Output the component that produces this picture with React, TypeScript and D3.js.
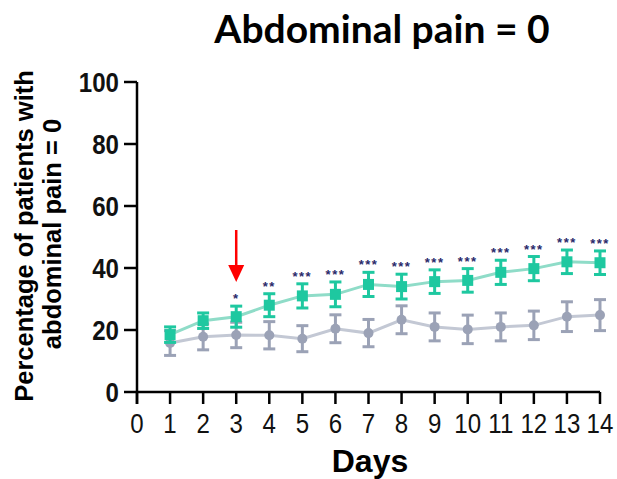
import React from "react";
import * as d3 from "d3";

const days = [1, 2, 3, 4, 5, 6, 7, 8, 9, 10, 11, 12, 13, 14];
const treatedMean = [18.5, 23, 24.3, 28, 31, 31.5, 34.7, 34, 35.6, 36, 38.6, 39.8, 42, 41.7];
const treatedErr = [2.5, 2.5, 3.4, 3.7, 3.9, 4, 3.9, 4, 3.8, 3.8, 3.9, 3.9, 3.8, 3.8];
const controlMean = [15.8, 17.8, 18.4, 18.3, 17.2, 20.4, 19, 23.3, 21, 20.2, 21, 21.5, 24.3, 24.8];
const controlErr = [4, 4.2, 4.1, 4.4, 4.2, 4.5, 4.4, 4.5, 4.5, 4.6, 4.5, 4.6, 4.8, 5];
const stars = ["", "", "*", "**", "***", "***", "***", "***", "***", "***", "***", "***", "***", "***"];
const xTicks = d3.range(0, 15);
const yTicks = [0, 20, 40, 60, 80, 100];
const arrowDay = 3;

const title = "Abdominal pain = 0";
const yTitle = ["Percentage of patients with", "abdominal pain = 0"];
const xTitle = "Days";

const GREEN = "#1ec8a0";
const GREEN_LINE = "#8fdcc8";
const GRAY = "#9ba2b6";
const GRAY_LINE = "#c3c8d4";

export default function App() {
  const W = 617;
  const H = 479;
  const x = d3.scaleLinear().domain([0, 14]).range([137, 600]);
  const y = d3.scaleLinear().domain([0, 100]).range([392, 82]);

  const line = d3
    .line<number>()
    .x((_, i) => x(days[i]))
    .y((d) => y(d));

  const sans = "'Liberation Sans', Arial, sans-serif";
  const sx = 0.86;

  const errBar = (cx: number, m: number, e: number, color: string, key: string) => (
    <g key={key} stroke={color} strokeWidth={3} fill="none">
      <line x1={cx} x2={cx} y1={y(m - e)} y2={y(m + e)} />
      <line x1={cx - 6} x2={cx + 6} y1={y(m - e)} y2={y(m - e)} />
      <line x1={cx - 6} x2={cx + 6} y1={y(m + e)} y2={y(m + e)} />
    </g>
  );

  const ax = x(arrowDay);

  return (
    <svg width={W} height={H} style={{ position: "absolute", left: 0, top: 0, background: "#fff" }}>
      <rect width={W} height={H} fill="#fff" />
      <text x={382} y={43} textAnchor="middle" fontFamily="Lato, 'Open Sans', sans-serif" fontWeight={700} fontSize={39} fill="#000">
        {title}
      </text>

      {/* y axis title */}
      <g fontFamily={sans} fontWeight={700} fontSize={25.5} fill="#000" textAnchor="middle">
        <text transform={`translate(33,236) rotate(-90)`}>{yTitle[0]}</text>
        <text transform={`translate(61,234) rotate(-90)`}>{yTitle[1]}</text>
      </g>

      {/* axes */}
      <g stroke="#000" strokeWidth={2.5} fill="none">
        <line x1={x(0)} x2={x(0)} y1={y(100)} y2={y(0) + 12} />
        <line x1={x(0)} x2={x(14)} y1={y(0)} y2={y(0)} />
        {yTicks.map((t) => (
          <line key={"yt" + t} x1={x(0) - 13} x2={x(0)} y1={y(t)} y2={y(t)} />
        ))}
        {xTicks.map((t) => (
          <line key={"xt" + t} x1={x(t)} x2={x(t)} y1={y(0)} y2={y(0) + 12} />
        ))}
      </g>
      <g fontFamily={sans} fontWeight={700} fontSize={28} fill="#111" textAnchor="end">
        {yTicks.map((t) => (
          <text key={"yl" + t} transform={`translate(${x(0) - 18},${y(t) + 10}) scale(${sx},1)`}>
            {t}
          </text>
        ))}
      </g>
      <g fontFamily={sans} fontSize={28} fill="#111" textAnchor="middle">
        {xTicks.map((t) => (
          <text key={"xl" + t} transform={`translate(${x(t)},433) scale(${sx},1)`}>
            {t}
          </text>
        ))}
      </g>
      <text x={370} y={472} textAnchor="middle" fontFamily={sans} fontWeight={700} fontSize={32} fill="#000">
        {xTitle}
      </text>

      {/* control series */}
      <path d={line(controlMean) || ""} stroke={GRAY_LINE} strokeWidth={3} fill="none" />
      {controlMean.map((m, i) => errBar(x(days[i]), m, controlErr[i], GRAY, "ce" + i))}
      {controlMean.map((m, i) => (
        <circle key={"cc" + i} cx={x(days[i])} cy={y(m)} r={5} fill={GRAY} />
      ))}

      {/* treated series */}
      <path d={line(treatedMean) || ""} stroke={GREEN_LINE} strokeWidth={3} fill="none" />
      {treatedMean.map((m, i) => errBar(x(days[i]), m, treatedErr[i], GREEN, "te" + i))}
      {treatedMean.map((m, i) => (
        <rect key={"tr" + i} x={x(days[i]) - 5.5} y={y(m) - 5.5} width={11} height={11} fill={GREEN} />
      ))}

      {/* significance stars */}
      <g fontFamily={sans} fontWeight={700} fontSize={13} fill="#2a2a6a" textAnchor="middle">
        {stars.map((s, i) =>
          s ? (
            <text key={"st" + i} x={x(days[i])} y={y(treatedMean[i] + treatedErr[i]) - 3} letterSpacing={1.5}>
              {s}
            </text>
          ) : null
        )}
      </g>

      {/* red arrow */}
      <g>
        <line x1={ax} x2={ax} y1={230} y2={268} stroke="#ff0000" strokeWidth={2.5} />
        <path d={`M${ax - 8},${265} L${ax + 8},${265} L${ax},${282} Z`} fill="#ff0000" />
      </g>
    </svg>
  );
}
